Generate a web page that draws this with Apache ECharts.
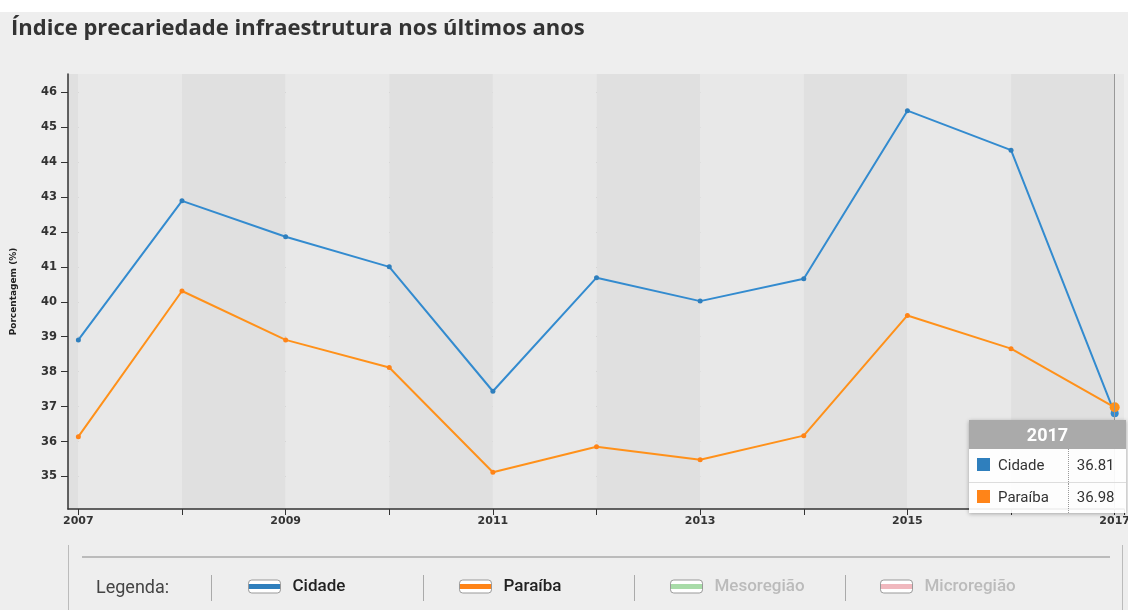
<!DOCTYPE html>
<html>
<head>
<meta charset="utf-8">
<script src="https://cdn.jsdelivr.net/npm/echarts@6/dist/echarts.min.js"></script>
<style>
  html, body { margin: 0; padding: 0; background: #eeeeee; }
  #main { width: 1128px; height: 610px; }
</style>
</head>
<body>
<div id="main"></div>
<script>
var anos = [2007, 2008, 2009, 2010, 2011, 2012, 2013, 2014, 2015, 2016, 2017];
var cidade = [38.91, 42.89, 41.86, 41.00, 37.44, 40.69, 40.02, 40.66, 45.47, 44.34, 36.81];
var paraiba = [36.14, 40.31, 38.91, 38.12, 35.12, 35.85, 35.48, 36.17, 39.61, 38.66, 36.98];

var corCidade = '#2f7fbd';
var corParaiba = '#ff8418';
var fonte = "Roboto, sans-serif";
var fonteEixo = "'DejaVu Sans', sans-serif";

function pares(vals) {
    return anos.map(function (a, i) { return [a, vals[i]]; });
}

function iconeCor(c) {
    return new echarts.graphic.LinearGradient(0, 0, 0, 1, [
        { offset: 0, color: '#ffffff' },
        { offset: 0.33, color: '#ffffff' },
        { offset: 0.33, color: c },
        { offset: 0.67, color: c },
        { offset: 0.67, color: '#ffffff' },
        { offset: 1, color: '#ffffff' }
    ]);
}

function legenda(nome, x, cor, corTexto) {
    return {
        data: [{ name: nome, itemStyle: { color: iconeCor(cor), borderColor: '#999', borderWidth: 1 } }],
        left: x,
        top: 578,
        padding: 0,
        icon: 'roundRect',
        itemWidth: 32,
        itemHeight: 13,
        selectedMode: false,
        textStyle: { fontFamily: fonte, fontSize: 17, fontWeight: 500, color: corTexto, padding: [0, 0, 0, 7] }
    };
}

var myChart = echarts.init(document.getElementById('main'));

var option = {
    backgroundColor: '#eeeeee',
    animation: false,
    title: {
        text: 'Índice precariedade infraestrutura nos últimos anos',
        left: 6,
        top: 13,
        textStyle: { fontFamily: "'Open Sans', sans-serif", fontSize: 22, fontWeight: 'bold', color: '#333' }
    },
    grid: { left: 68, right: 4, top: 74, bottom: 101, outerBoundsMode: 'none' },
    xAxis: {
        type: 'value',
        min: 2006.9,
        max: 2017.09,
        minInterval: 1,
        maxInterval: 1,
        splitNumber: 10,
        axisLine: { lineStyle: { color: '#333', width: 1.5 } },
        axisTick: { length: 6, lineStyle: { color: '#333' } },
        axisLabel: {
            margin: 7,
            fontFamily: fonteEixo,
            fontSize: 11,
            fontWeight: 'bold',
            color: '#333',
            showMinLabel: false,
            formatter: function (v) {
                return (Math.abs(v - Math.round(v)) < 1e-6 && Math.round(v) % 2 === 1) ? String(Math.round(v)) : '';
            }
        },
        splitLine: { show: false },
        splitArea: { show: true, areaStyle: { color: ['#e0e0e0', '#e8e8e8'] } }
    },
    yAxis: {
        type: 'value',
        min: 34.07,
        max: 46.52,
        minInterval: 1,
        maxInterval: 1,
        splitNumber: 12,
        name: 'Porcentagem (%)',
        nameLocation: 'middle',
        nameGap: 50,
        nameTextStyle: { fontFamily: fonteEixo, fontSize: 9, fontWeight: 'bold', color: '#222' },
        axisLine: { show: true, lineStyle: { color: '#333', width: 1.5 } },
        axisTick: { show: true, length: 7, lineStyle: { color: '#333' } },
        axisLabel: { margin: 11, fontFamily: fonteEixo, fontSize: 11.5, fontWeight: 'bold', color: '#333', showMinLabel: false, showMaxLabel: false },
        splitLine: { show: true, showMinLine: false, showMaxLine: false, lineStyle: { color: '#a8a8a8', type: [4, 4] } }
    },
    tooltip: {
        trigger: 'axis',
        triggerOn: 'none',
        alwaysShowContent: true,
        transitionDuration: 0,
        padding: 0,
        borderWidth: 0,
        backgroundColor: 'rgba(255,255,255,0.92)',
        extraCssText: 'box-shadow:0 1px 4px rgba(0,0,0,0.3);border-radius:0;',
        position: function () { return [969, 420]; },
        axisPointer: { type: 'line', lineStyle: { color: '#999', width: 1, type: 'solid' } },
        formatter: function (params) {
            var ano = Math.round(params[0].value[0]);
            var html = '<div style="width:157px;font-family:Roboto,sans-serif;">' +
                '<div style="background:#aaaaaa;color:#fff;font-weight:bold;font-size:18px;text-align:center;height:29px;line-height:29px;">' + ano + '</div>' +
                '<table style="border-collapse:collapse;width:100%;font-size:15px;color:#333;">';
            params.forEach(function (p, i) {
                html += '<tr style="height:' + (i === 0 ? 33 : 31) + 'px;' + (i === 0 ? 'border-bottom:1px solid #ddd;' : '') + '">' +
                    '<td style="padding-left:8px;white-space:nowrap;"><span style="display:inline-block;width:13px;height:13px;background:' + p.color + ';margin-right:8px;vertical-align:-1px;"></span>' + p.seriesName + '</td>' +
                    '<td style="border-left:1px dotted #999;padding-left:8px;">' + p.value[1].toFixed(2) + '</td></tr>';
            });
            html += '</table></div>';
            return html;
        }
    },
    legend: [
        legenda('Cidade', 248, corCidade, '#222'),
        legenda('Paraíba', 459, corParaiba, '#222'),
        legenda('Mesoregião', 670, '#a8dba8', '#bbbbbb'),
        legenda('Microregião', 880, '#f0b8be', '#bbbbbb')
    ],
    graphic: [
        { type: 'rect', shape: { x: 0, y: 0, width: 1128, height: 12 }, style: { fill: '#ffffff' } },
        { type: 'line', shape: { x1: 68.5, y1: 545, x2: 68.5, y2: 610 }, style: { stroke: '#bbb', lineWidth: 1 } },
        { type: 'line', shape: { x1: 1122.5, y1: 545, x2: 1122.5, y2: 610 }, style: { stroke: '#bbb', lineWidth: 1 } },
        { type: 'line', shape: { x1: 82, y1: 557, x2: 1110, y2: 557 }, style: { stroke: '#bbb', lineWidth: 2 } },
        { type: 'text', left: 96, top: 579, style: { text: 'Legenda:', font: '18px ' + fonte, fill: '#444' } },
        { type: 'line', shape: { x1: 211.5, y1: 575, x2: 211.5, y2: 601 }, style: { stroke: '#aaa', lineWidth: 1 } },
        { type: 'line', shape: { x1: 423.5, y1: 575, x2: 423.5, y2: 601 }, style: { stroke: '#aaa', lineWidth: 1 } },
        { type: 'line', shape: { x1: 634.5, y1: 575, x2: 634.5, y2: 601 }, style: { stroke: '#aaa', lineWidth: 1 } },
        { type: 'line', shape: { x1: 845.5, y1: 575, x2: 845.5, y2: 601 }, style: { stroke: '#aaa', lineWidth: 1 } }
    ],
    series: [
        {
            name: 'Cidade',
            type: 'line',
            data: pares(cidade),
            color: corCidade,
            symbol: 'circle',
            symbolSize: 5,
            lineStyle: { width: 2 },
            emphasis: { scale: 1.6, lineStyle: { width: 2 } }
        },
        {
            name: 'Paraíba',
            type: 'line',
            data: pares(paraiba),
            color: corParaiba,
            symbol: 'circle',
            symbolSize: 5,
            lineStyle: { width: 2 },
            emphasis: { scale: 2, lineStyle: { width: 2 } }
        },
        { name: 'Mesoregião', type: 'line', data: [], color: '#a8dba8' },
        { name: 'Microregião', type: 'line', data: [], color: '#f0b8be' }
    ]
};

myChart.setOption(option);
myChart.dispatchAction({ type: 'showTip', seriesIndex: 1, dataIndex: 10 });
</script>
</body>
</html>
